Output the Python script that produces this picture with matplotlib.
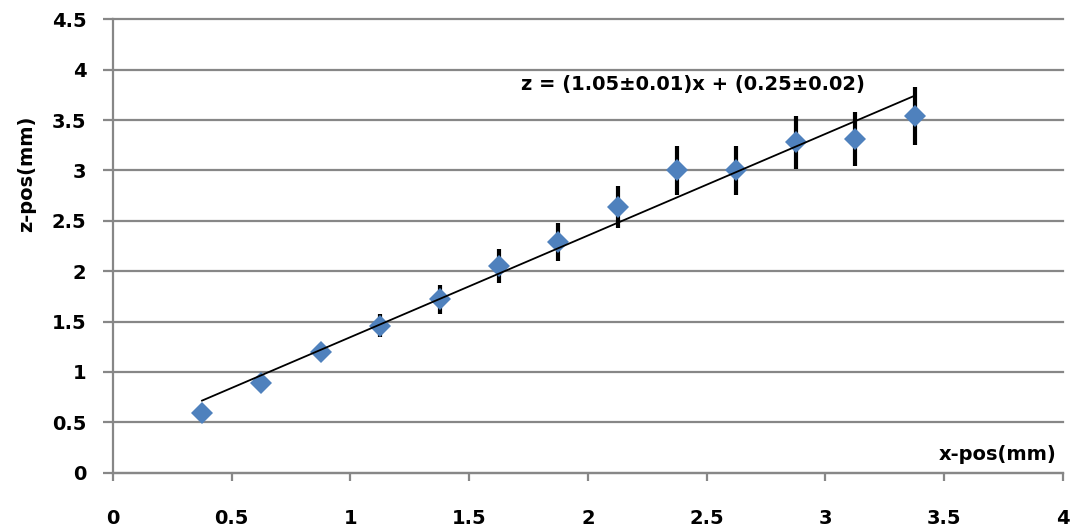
"""
z-position vs x-position scan with linear fit
"""

import numpy as np
import matplotlib.pyplot as plt

# Measured positions (mm)
x_pos = [0.375, 0.625, 0.875, 1.125, 1.375, 1.625, 1.875,
         2.125, 2.375, 2.625, 2.875, 3.125, 3.375]
z_pos = [0.59, 0.89, 1.20, 1.46, 1.72, 2.05, 2.29,
         2.64, 3.00, 3.00, 3.28, 3.31, 3.54]
z_err = [0.04, 0.05, 0.07, 0.115, 0.14, 0.17, 0.185,
         0.21, 0.245, 0.24, 0.265, 0.27, 0.29]

fit_label = 'z = (1.05\u00b10.01)x + (0.25\u00b10.02)'
x_ticks = [0, 0.5, 1, 1.5, 2, 2.5, 3, 3.5, 4]
y_ticks = [0, 0.5, 1, 1.5, 2, 2.5, 3, 3.5, 4, 4.5]

GRID = '#878787'
BLUE = '#4f81bd'

plt.rcParams['font.family'] = ['DejaVu Sans']
plt.rcParams['font.weight'] = 'bold'

fig = plt.figure(figsize=(10.84, 5.28), dpi=100)
ax = fig.add_axes([0.1042, 0.1047, 0.8764, 0.8587])

# error bars first, markers on top, trendline over everything
ax.errorbar(x_pos, z_pos, yerr=z_err, fmt='none', ecolor='black',
            elinewidth=3, capsize=0, zorder=3)
ax.plot(x_pos, z_pos, linestyle='none', marker='D', markersize=11,
        color=BLUE, markeredgewidth=0, zorder=4)

slope, intercept = np.polyfit(x_pos, z_pos, 1)
x_fit = np.array([x_pos[0], x_pos[-1]])
ax.plot(x_fit, slope * x_fit + intercept, color='black', lw=1.3, zorder=5)

ax.text(1.72, 3.85, fit_label, fontsize=14, fontweight='bold',
        ha='left', va='center')

ax.set_xlim(0, 4)
ax.set_ylim(0, 4.5)
ax.set_xticks(x_ticks)
ax.set_yticks(y_ticks)
ax.set_xticklabels([f'{t:g}' for t in x_ticks])
ax.set_yticklabels([f'{t:g}' for t in y_ticks])

ax.yaxis.grid(True, color=GRID, lw=1.6)
ax.xaxis.grid(False)
for gl in ax.get_ygridlines():
    gl.set_clip_on(False)
ax.set_axisbelow(True)

for side in ['top', 'right']:
    ax.spines[side].set_visible(False)
for side in ['left', 'bottom']:
    ax.spines[side].set_color(GRID)
    ax.spines[side].set_linewidth(1.6)

ax.tick_params(axis='x', direction='out', length=6, width=1.6, color=GRID,
               labelsize=14, pad=20)
ax.tick_params(axis='y', direction='out', length=7, width=1.6, color=GRID,
               labelsize=14, pad=12)

ax.set_xlabel('x-pos(mm)', fontsize=14, fontweight='bold', ha='right', va='center')
ax.xaxis.set_label_coords(0.993, 0.04)
ax.set_ylabel('z-pos(mm)', fontsize=14, fontweight='bold', va='center')
ax.yaxis.set_label_coords(-0.0905, 0.659)

fig.savefig('out.png', dpi=100, facecolor='white')
